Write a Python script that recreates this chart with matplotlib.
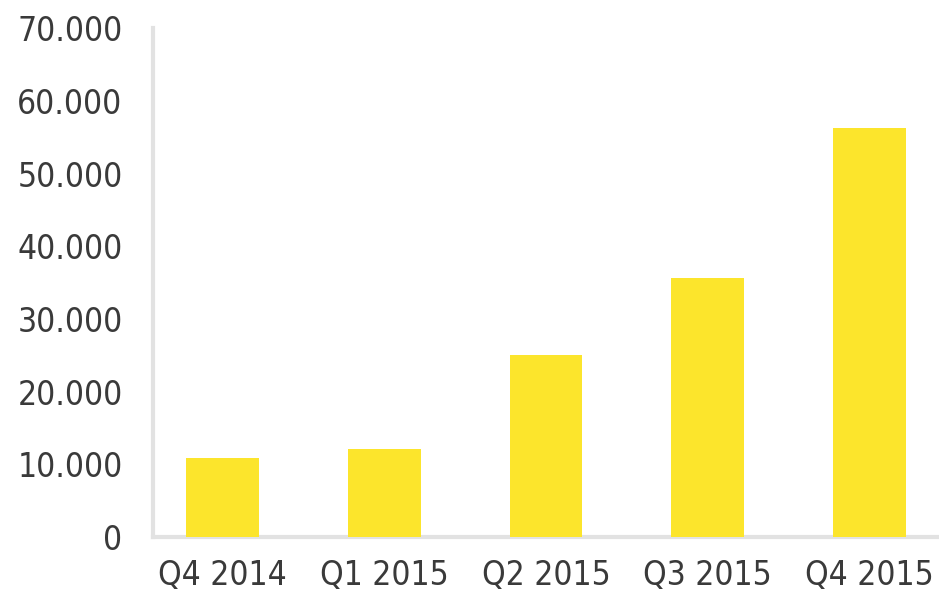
import matplotlib
matplotlib.use("Agg")
import matplotlib.pyplot as plt
from matplotlib.ticker import FuncFormatter
import numpy as np

quarters = ["Q4 2014", "Q1 2015", "Q2 2015", "Q3 2015", "Q4 2015"]
values = [10850, 12100, 25000, 35700, 56300]
yticks = [0, 10000, 20000, 30000, 40000, 50000, 60000, 70000]

YELLOW = "#fce52c"
TXT = "#3a3a3a"

plt.rcParams["font.family"] = ["DejaVu Sans"]
plt.rcParams["font.stretch"] = "condensed"

fig = plt.figure(figsize=(9.39, 6.0), dpi=100)
ax = fig.add_axes([0.163, 0.105, 0.837, 0.848])
x = np.arange(len(quarters))
ax.bar(x, values, width=0.45, color=YELLOW, zorder=3)

ax.set_xlim(-0.43, len(quarters) - 0.57)
ax.set_ylim(0, 70000)
ax.set_yticks(yticks)
ax.yaxis.set_major_formatter(FuncFormatter(lambda v, p: f"{int(v):,}".replace(",", ".")))
ax.set_xticks(x)
ax.set_xticklabels(quarters)
ax.tick_params(axis="both", length=0, labelsize=24, colors=TXT)
ax.tick_params(axis="y", pad=22)
ax.tick_params(axis="x", pad=16)
for s in ["top", "right"]:
    ax.spines[s].set_visible(False)
for s in ["left", "bottom"]:
    ax.spines[s].set_color("#e2e2e2")
    ax.spines[s].set_linewidth(3)

fig.savefig("out.png", dpi=100)
